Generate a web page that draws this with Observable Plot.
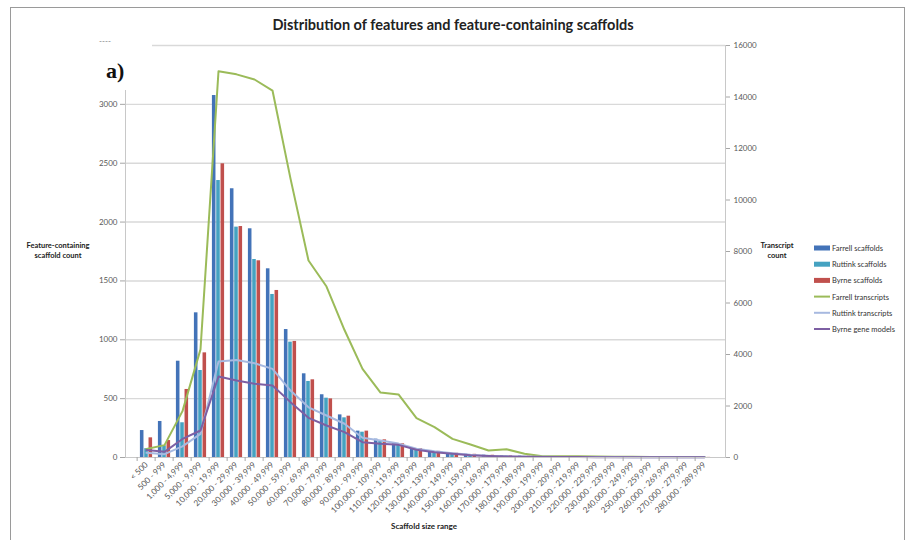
<!DOCTYPE html>
<html><head><meta charset="utf-8">
<script src="https://cdn.jsdelivr.net/npm/d3@7"></script>
<script src="https://cdn.jsdelivr.net/npm/@observablehq/plot@0.6"></script>
<style>body{margin:0;background:#fff;}</style>
</head><body><div id="chart"></div>
<script>
const categories = ["< 500","500 - 999","1,000 - 4,999","5,000 - 9,999","10,000 - 19,999","20,000 - 29,999","30,000 - 39,999","40,000 - 49,999","50,000 - 59,999","60,000 - 69,999","70,000 - 79,999","80,000 - 89,999","90,000 - 99,999","100,000 - 109,999","110,000 - 119,999","120,000 - 129,999","130,000 - 139,999","140,000 - 149,999","150,000 - 159,999","160,000 - 169,999","170,000 - 179,999","180,000 - 189,999","190,000 - 199,999","200,000 - 209,999","210,000 - 219,999","220,000 - 229,999","230,000 - 239,999","240,000 - 249,999","250,000 - 259,999","260,000 - 269,999","270,000 - 279,999","280,000 - 289,999"];

const farrellScaffolds = [229,306,818,1229,3075,2283,1943,1603,1087,711,533,362,224,156,116,74,54,37,28,20,15,12,9,7,5,4,3,3,2,2,1,1];
const ruttinkScaffolds = [75,100,295,739,2353,1957,1682,1385,980,646,504,337,215,144,108,70,50,34,25,18,13,10,8,6,4,3,3,2,2,1,1,1];
const byrneScaffolds   = [167,144,578,889,2495,1962,1671,1419,986,660,498,351,224,150,116,75,52,36,27,19,14,11,8,6,5,3,3,2,2,1,1,1];

const farrellTranscripts = [330,480,1800,4200,15000,14880,14680,14250,10830,7650,6640,4950,3440,2520,2450,1530,1180,725,505,272,320,143,52,50,45,35,30,25,20,20,20,20];
const ruttinkTranscripts = [180,130,430,920,3730,3790,3660,3440,2600,1950,1630,1310,765,660,540,340,240,168,104,60,40,30,25,20,20,15,15,10,10,10,10,10];
const byrneGeneModels    = [290,220,720,1048,3146,2990,2860,2796,2150,1540,1243,984,595,530,491,298,207,142,91,60,40,30,20,15,15,10,10,10,10,5,5,5];

const leftTicks = [0,500,1000,1500,2000,2500,3000];
const leftGrid = [500,1000,1500,2000,2500,3000,3500];
const rightTicks = [0,2000,4000,6000,8000,10000,12000,14000,16000];
const leftMax = 3500, rightMax = 16000;

const titleText = "Distribution of features and feature-containing scaffolds";
const xTitle = "Scaffold size range";
const leftTitle = ["Feature-containing","scaffold count"];
const rightTitle = ["Transcript","count"];

const k = leftMax / rightMax;
const barSeries = [
  {name:"Farrell scaffolds", values:farrellScaffolds, color:"#4373b8"},
  {name:"Ruttink scaffolds", values:ruttinkScaffolds, color:"#45a2c1"},
  {name:"Byrne scaffolds", values:byrneScaffolds, color:"#c0504d"}
];
const lineSeries = [
  {name:"Farrell transcripts", values:farrellTranscripts, color:"#9bbb59"},
  {name:"Ruttink transcripts", values:ruttinkTranscripts, color:"#a7b9e0"},
  {name:"Byrne gene models", values:byrneGeneModels, color:"#7d5fa3"}
];

const W = 907, H = 540, mL = 125, mR = 182, mT = 45, mB = 83;
const bw = (W - mL - mR) / categories.length;
const barW = bw * 0.23, gap = (bw - 3 * barW) / 2;
const axisGray = "#a6a6a6", textGray = "#595959";

const chart = Plot.plot({
  width: W, height: H,
  marginLeft: mL, marginRight: mR, marginTop: mT, marginBottom: mB,
  style: {fontFamily: "Lato, 'Liberation Sans', sans-serif", fontSize: "8px", background: "#fff", overflow: "visible"},
  x: {type: "band", domain: categories, padding: 0},
  y: {domain: [0, leftMax]},
  marks: [
    Plot.gridY(leftGrid, {stroke: "#d9d9d9", strokeOpacity: 1, strokeWidth: 1.4}),
    ...barSeries.map((s, i) => Plot.barY(categories.map((c, j) => ({cat: c, v: s.values[j]})), {
      x: "cat", y: "v", fill: s.color,
      insetLeft: gap + i * barW, insetRight: bw - gap - (i + 1) * barW
    })),
    ...lineSeries.map(s => Plot.line(categories.map((c, j) => ({cat: c, v: s.values[j] * k})), {
      x: "cat", y: "v", stroke: s.color, strokeWidth: 2
    })),
    Plot.frame({anchor: "left", stroke: "#c8c8c8"}),
    Plot.frame({anchor: "right", stroke: "#c8c8c8"}),
    Plot.frame({anchor: "bottom", stroke: "#c8c8c8"}),
    Plot.axisY(leftTicks, {anchor: "left", tickSize: 5, tickPadding: 3, stroke: axisGray, fill: textGray, fontSize: 8, label: null,
      tickFormat: d => String(d)}),
    Plot.axisY(rightTicks.map(d => d * k), {anchor: "right", tickSize: 4, tickPadding: 4, stroke: axisGray, fill: textGray, fontSize: 8, label: null,
      tickFormat: d => String(Math.round(d / k))}),
    Plot.axisX({tickRotate: -45, tickSize: 0, tickPadding: 6, fill: textGray, fontSize: 8.2, label: null}),
    Plot.axisX({tickSize: 4, tickFormat: () => "", stroke: axisGray, dx: -bw / 2, label: null})
  ]
});
document.getElementById("chart").appendChild(chart);

const svg = d3.select(chart);
svg.append("rect").attr("x", 10.5).attr("y", 7.5).attr("width", 894).attr("height", 540)
  .attr("fill", "none").attr("stroke", "#9a9a9a");
svg.append("text").attr("x", 453).attr("y", 30).attr("text-anchor", "middle")
  .attr("font-size", 14.5).attr("font-weight", "bold").attr("fill", "#222").text(titleText);
// pasted panel label overlay
svg.append("rect").attr("x", 96).attr("y", 44).attr("width", 56).attr("height", 46).attr("fill", "#fff");
svg.append("text").attr("x", 99).attr("y", 44).attr("text-anchor", "start").attr("font-size", 8).attr("fill", "#777").text("----");
svg.append("text").attr("x", 106).attr("y", 78).attr("text-anchor", "start").attr("font-family", "'Liberation Serif', serif")
  .attr("font-size", 22).attr("font-weight", "bold").attr("fill", "#111").text("a)");
svg.append("text").attr("x", 424).attr("y", 529).attr("text-anchor", "middle")
  .attr("font-size", 8).attr("font-weight", "bold").attr("fill", "#222").text(xTitle);
leftTitle.forEach((t, i) => svg.append("text").attr("x", 58).attr("y", 248 + i * 10).attr("text-anchor", "middle")
  .attr("font-size", 7.5).attr("font-weight", "bold").attr("fill", "#222").text(t));
rightTitle.forEach((t, i) => svg.append("text").attr("x", 777).attr("y", 248 + i * 10).attr("text-anchor", "middle")
  .attr("font-size", 7.5).attr("font-weight", "bold").attr("fill", "#222").text(t));
const leg = svg.append("g").attr("text-anchor", "start");
[...barSeries.map(s => ({...s, type: "bar"})), ...lineSeries.map(s => ({...s, type: "line"}))].forEach((s, i) => {
  const y = 248 + i * 16.2;
  if (s.type === "bar") leg.append("rect").attr("x", 814).attr("y", y - 2.5).attr("width", 16).attr("height", 5).attr("fill", s.color);
  else leg.append("line").attr("x1", 814).attr("x2", 830).attr("y1", y).attr("y2", y).attr("stroke", s.color).attr("stroke-width", 2);
  leg.append("text").attr("x", 832).attr("y", y + 3).attr("text-anchor", "start").attr("font-size", 7.5).attr("fill", "#333").text(s.name);
});
</script>
</body></html>
